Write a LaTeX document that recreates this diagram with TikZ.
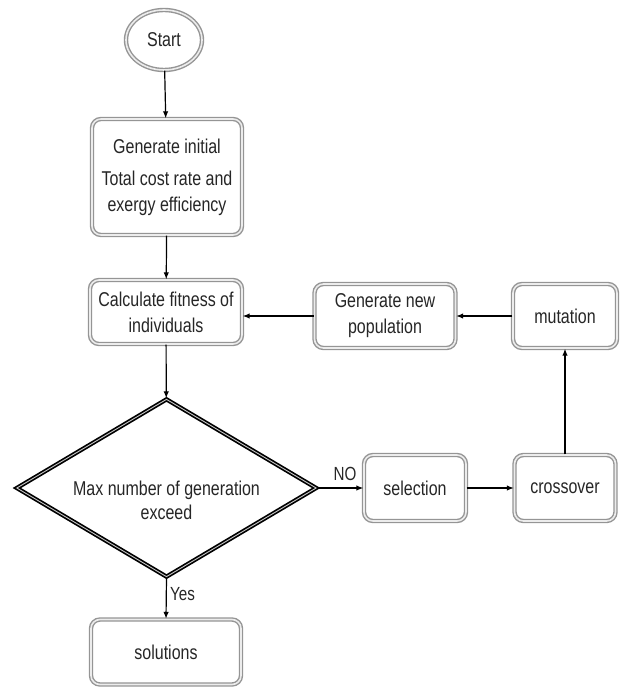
\documentclass[tikz,border=0pt]{standalone}
\usepackage{fontspec}
\setmainfont{Liberation Sans}[FakeStretch=0.80]
\usepackage{xcolor}
\usepackage{tikz}
\usetikzlibrary{shapes,arrows,arrows.meta,positioning}

\definecolor{txtgray}{HTML}{262626}
\definecolor{rimgray}{HTML}{959595}

\tikzset{
    box/.style={draw=rimgray, double=gray!15, double distance=1.6pt, line width=1.4pt,
        rounded corners=9pt, fill=white, align=center, inner sep=2pt,
        text=txtgray, font=\fontsize{20}{26}\selectfont},
    startnode/.style={ellipse, draw=rimgray, double=gray!15, double distance=1.6pt, line width=1.4pt,
        fill=white, text=txtgray, inner sep=0pt, font=\fontsize{20}{26}\selectfont},
    decision/.style={diamond, aspect=1.68, draw=black, double=gray!45, double distance=0.9pt, line width=1.7pt,
        fill=white, align=center, inner sep=0pt, text height=63pt, text depth=0pt,
        text=txtgray, font=\fontsize{20}{24}\selectfont},
    arr/.style={-{Latex[length=7pt,width=5.5pt]}, line width=1.2pt},
    lbl/.style={text=txtgray, font=\fontsize{19}{22}\selectfont}
}

\begin{document}
\begin{tikzpicture}[x=1pt, y=-1pt]
        \useasboundingbox (0,0) rectangle (622,690);

        % Main column
        \node[startnode, minimum width=76, minimum height=60] (start) at (164,40) {Start};
        \node[box, minimum width=150, minimum height=116] (init) at (167,177)
            {Generate initial\\[6pt] Total cost rate and\\ exergy efficiency};
        \node[box, minimum width=152, minimum height=64] (fit) at (166,312)
            {Calculate fitness of\\ individuals};
        \node[decision, minimum width=300, minimum height=178] (dec) at (166.5,488)
            {Max number of generation\\ exceed};
        \node[box, minimum width=150, minimum height=65] (sol) at (166,652) {solutions};

        % Loop on the right
        \node[box, minimum width=102, minimum height=66] (sel) at (415,488) {selection};
        \node[box, minimum width=101, minimum height=66] (cross) at (565,488) {crossover};
        \node[box, minimum width=104, minimum height=64] (mut) at (565,316) {mutation};
        \node[box, minimum width=141, minimum height=64] (newpop) at (385,316)
            {Generate new\\ population};

        % Connectors
        \draw[arr] (start) -- (init);
        \draw[arr] (init) -- (fit);
        \draw[arr] (fit) -- (dec);
        \draw[arr] (dec.east) -- (sel.west) node[lbl, pos=0.6, above=3pt] {NO};
        \draw[arr] (sel) -- (cross);
        \draw[arr] (cross) -- (mut);
        \draw[arr] (mut) -- (newpop);
        \draw[arr] (newpop.west) -- (newpop.west -| fit.east);
        \draw[arr] (dec.south) -- (sol.north) node[lbl, pos=0.4, right] {Yes};
    \end{tikzpicture}
\end{document}
